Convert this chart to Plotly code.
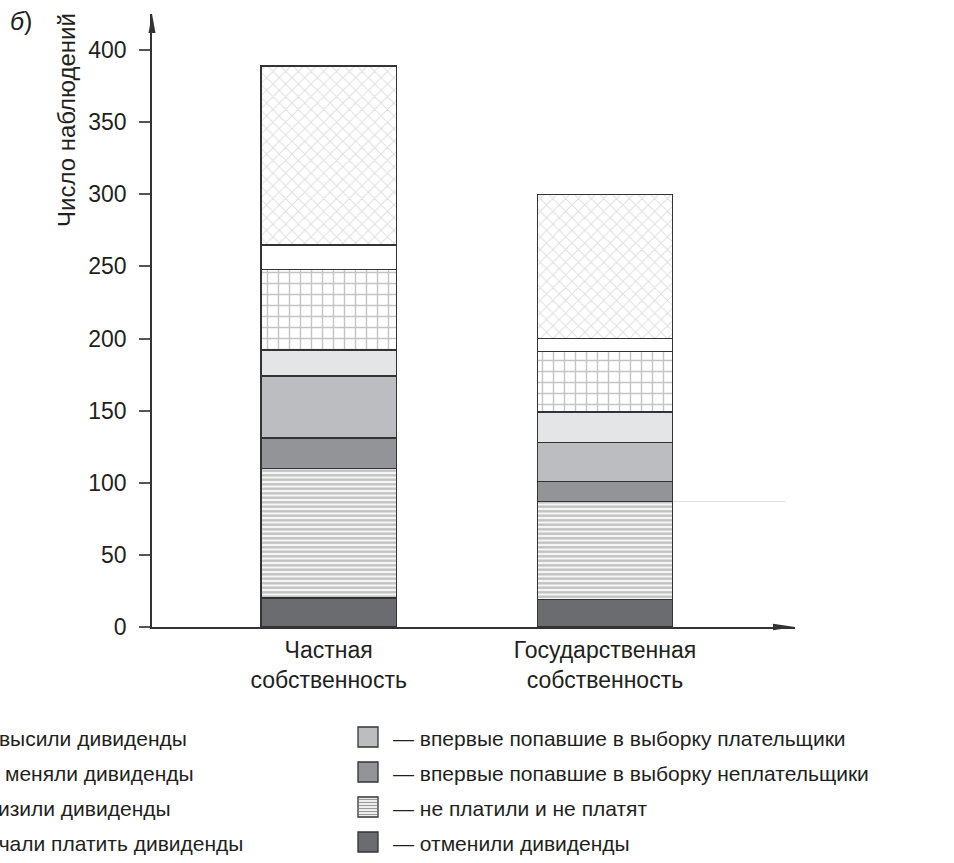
import plotly.graph_objects as go

# ---------------- data ----------------
categories = ["Частная<br>собственность", "Государственная<br>собственность"]

# stacked from bottom to top
otmenili = [20, 19]            # отменили дивиденды
ne_platili = [90, 68]          # не платили и не платят
vpervye_neplat = [21, 14]      # впервые попавшие в выборку неплательщики
vpervye_plat = [43, 27]        # впервые попавшие в выборку плательщики
nachali = [18, 21]             # начали платить дивиденды
snizili = [56, 42]             # снизили дивиденды
ne_menyali = [17, 9]           # не меняли дивиденды
povysili = [124, 100]          # повысили дивиденды

series_names = [
    "отменили дивиденды",
    "не платили и не платят",
    "впервые попавшие в выборку неплательщики",
    "впервые попавшие в выборку плательщики",
    "начали платить дивиденды",
    "снизили дивиденды",
    "не меняли дивиденды",
    "повысили дивиденды",
]
# legend layout: left column (top->bottom) and right column (top->bottom), by series index
legend_left = [7, 6, 5, 4]
legend_right = [3, 2, 1, 0]

y_ticks = [0, 50, 100, 150, 200, 250, 300, 350, 400]
y_title = "Число наблюдений"
panel_label = "<i>б</i>)"

# ---------------- styling ----------------
FONT = "Liberation Sans"
INK = "#231f20"
EDGE = "#333333"
BAR_W = 0.49

colors = ["#6b6c70", "#f2f2f2", "#939498", "#bcbdc0", "#e4e5e7", "#ffffff", "#ffffff", "#ffffff"]
patterns = [
    None,
    dict(shape="-", fgcolor="#858585", bgcolor="#f6f6f6", size=4.5, solidity=0.5),
    None,
    None,
    None,
    dict(shape="+", fgcolor="#8a8a8a", bgcolor="#ffffff", size=11, solidity=0.24),
    None,
    dict(shape="x", fgcolor="#c2c2c2", bgcolor="#ffffff", size=9, solidity=0.22),
]
values = [otmenili, ne_platili, vpervye_neplat, vpervye_plat, nachali, snizili, ne_menyali, povysili]

fig = go.Figure()
for name, vals, color, pattern in zip(series_names, values, colors, patterns):
    marker = dict(color=color, line=dict(color=EDGE, width=1.5))
    if pattern is not None:
        marker["pattern"] = pattern
    fig.add_trace(go.Bar(x=categories, y=vals, name=name, marker=marker,
                         width=BAR_W, hoverinfo="skip", showlegend=False))

W, H = 954, 863
L, R, T, B = 152, 159, 14, 236
pw, ph = W - L - R, H - T - B

def px_x(p):
    return (p - L) / pw

def px_y(p):
    return (H - B - p) / ph

fig.update_layout(
    width=W, height=H,
    barmode="stack",
    paper_bgcolor="white", plot_bgcolor="white",
    margin=dict(l=L, r=R, t=T, b=B, autoexpand=False),
    font=dict(family=FONT, size=21, color=INK),
    xaxis=dict(range=[-0.6395, 1.688], showline=True, linecolor=EDGE, linewidth=1.5,
               ticks="", showgrid=False, zeroline=False,
               tickfont=dict(size=23, color=INK), ticklabelstandoff=2),
    yaxis=dict(range=[0, 425], tickvals=y_ticks, showline=True, linecolor=EDGE,
               linewidth=1.5, ticks="outside", ticklen=11, tickwidth=1.5,
               tickcolor="#555555", showgrid=False, zeroline=False,
               tickfont=dict(size=23, color=INK), ticklabelstandoff=8),
    showlegend=False,
)

# axis arrows
fig.add_shape(type="path", xref="paper", yref="paper", xsizemode="pixel",
              ysizemode="pixel", xanchor=0, yanchor=1,
              path="M0,0 L-3.5,-19 L3.5,-19 Z", fillcolor=EDGE, line=dict(width=0))
fig.add_shape(type="path", xref="paper", yref="paper", xsizemode="pixel",
              ysizemode="pixel", xanchor=1, yanchor=0,
              path="M0,0 L-22,3.2 L-22,-3.2 Z", fillcolor=EDGE, line=dict(width=0))

# faint stray line (scan artifact) at top of 'не платили' in second bar
lvl = otmenili[1] + ne_platili[1]
fig.add_shape(type="line", xref="x", yref="y", x0=1 + BAR_W / 2, x1=1.655,
              y0=lvl, y1=lvl, line=dict(color="#e2e2e2", width=1), layer="below")

# ---------------- legend (two columns, left one runs off the page) ----------------
row_y = [737, 772, 807, 842]
columns = [(legend_left, -86), (legend_right, 358)]
for idx_list, sw_x in columns:
    for row, si in enumerate(idx_list):
        cy = row_y[row]
        fill = colors[si] if si != 1 else "#ededed"
        fig.add_shape(type="rect", xref="paper", yref="paper",
                      x0=px_x(sw_x), x1=px_x(sw_x + 20),
                      y0=px_y(cy + 10), y1=px_y(cy - 10),
                      fillcolor=fill, line=dict(color=EDGE, width=1.3))
        if si == 1:
            for k in range(6):
                yy = cy - 7.5 + k * 3
                fig.add_shape(type="line", xref="paper", yref="paper",
                              x0=px_x(sw_x + 1), x1=px_x(sw_x + 19),
                              y0=px_y(yy), y1=px_y(yy),
                              line=dict(color="#9a9a9a", width=1))
        fig.add_annotation(text="— " + series_names[si], xref="paper", yref="paper",
                           x=px_x(sw_x + 33), y=px_y(cy + 1), xanchor="left",
                           yanchor="middle", showarrow=False,
                           font=dict(size=21, color=INK))

# y-axis title and panel label
fig.add_annotation(text=y_title, textangle=-90, xref="paper", yref="paper",
                   x=px_x(66), y=px_y(11), xanchor="center", yanchor="top",
                   showarrow=False, font=dict(size=24, color=INK))
fig.add_annotation(text=panel_label, xref="paper", yref="paper",
                   x=px_x(8), y=px_y(21), xanchor="left", yanchor="middle",
                   showarrow=False, font=dict(size=25, color=INK))

fig.write_html("out.html", config={"displayModeBar": False},
               post_script="document.body.style.margin='0';document.body.style.overflow='hidden';")
